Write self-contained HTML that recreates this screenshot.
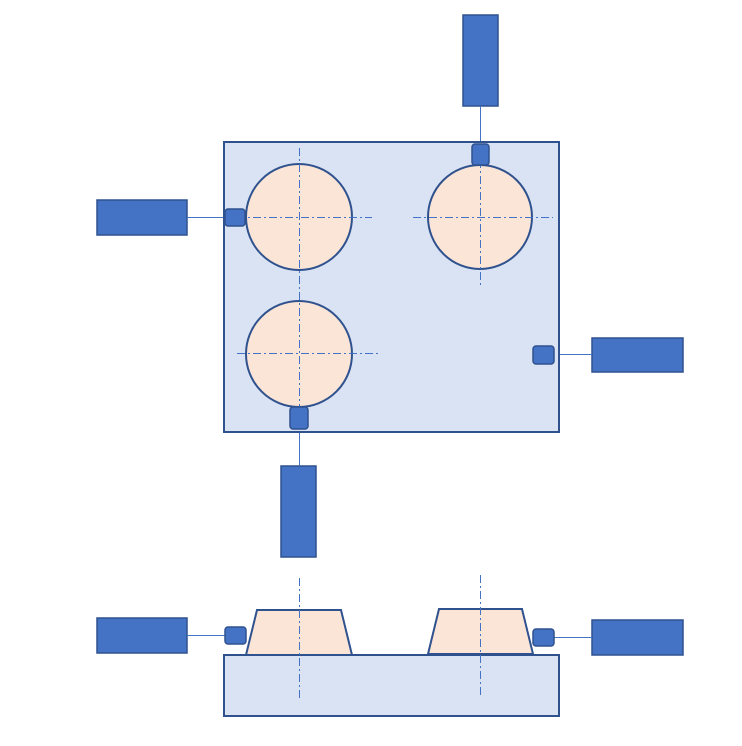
<!DOCTYPE html>
<html><head><meta charset="utf-8"><style>html,body{margin:0;padding:0;background:#fff}svg{display:block}</style></head><body>
<svg width="742" height="746" viewBox="0 0 742 746" xmlns="http://www.w3.org/2000/svg">
<g fill="#4472C4" stroke="#2F528F" stroke-width="1.5">
<rect x="463" y="15" width="35" height="91"/>
<rect x="97" y="200" width="90" height="35"/>
<rect x="592" y="338" width="91" height="34"/>
<rect x="281" y="466" width="35" height="91"/>
<rect x="97" y="618" width="90" height="35"/>
<rect x="592" y="620" width="91" height="35"/>
</g>
<g stroke="#4472C4" stroke-width="1">
<line x1="480.5" y1="106" x2="480.5" y2="144"/>
<line x1="187" y1="217.5" x2="225" y2="217.5"/>
<line x1="554" y1="354.5" x2="592" y2="354.5"/>
<line x1="299.5" y1="429" x2="299.5" y2="466"/>
<line x1="187" y1="635.5" x2="225" y2="635.5"/>
<line x1="554" y1="637.5" x2="592" y2="637.5"/>
</g>
<rect x="224" y="142" width="335" height="290" fill="#DAE3F3" stroke="#2F528F" stroke-width="2"/>
<g fill="#FBE5D6" stroke="#2F528F" stroke-width="2">
<circle cx="299" cy="217" r="53"/>
<circle cx="480" cy="217" r="52"/>
<circle cx="299" cy="354" r="53"/>
</g>
<g stroke="#4472C4" stroke-width="1" stroke-dasharray="8,3,2,3" fill="none">
<line x1="299.5" y1="148" x2="299.5" y2="292"/>
<line x1="237" y1="217.5" x2="372" y2="217.5"/>
<line x1="413" y1="217.5" x2="553" y2="217.5"/>
<line x1="480.5" y1="160" x2="480.5" y2="286"/>
<line x1="237" y1="353.5" x2="378" y2="353.5"/>
<line x1="299.5" y1="292" x2="299.5" y2="410"/>
</g>
<g fill="#4472C4" stroke="#2F528F" stroke-width="1.5">
<rect x="225" y="209" width="20" height="17" rx="3"/>
<rect x="472" y="144" width="17" height="21" rx="3"/>
<rect x="533" y="346" width="21" height="18" rx="3"/>
<rect x="290" y="407" width="18" height="22" rx="3"/>
</g>
<rect x="224" y="655" width="335" height="61" fill="#DAE3F3" stroke="#2F528F" stroke-width="2"/>
<g fill="#FBE5D6" stroke="#2F528F" stroke-width="2">
<polygon points="257,610 341,610 352,655 246,655"/>
<polygon points="439,609 522,609 533,654 428,654"/>
</g>
<g stroke="#4472C4" stroke-width="1" stroke-dasharray="8,3,2,3">
<line x1="299.5" y1="578" x2="299.5" y2="700"/>
<line x1="480.5" y1="575" x2="480.5" y2="697"/>
</g>
<g fill="#4472C4" stroke="#2F528F" stroke-width="1.5">
<rect x="225" y="627" width="21" height="17" rx="3"/>
<rect x="533" y="629" width="21" height="17" rx="3"/>
</g>
</svg>
</body></html>
